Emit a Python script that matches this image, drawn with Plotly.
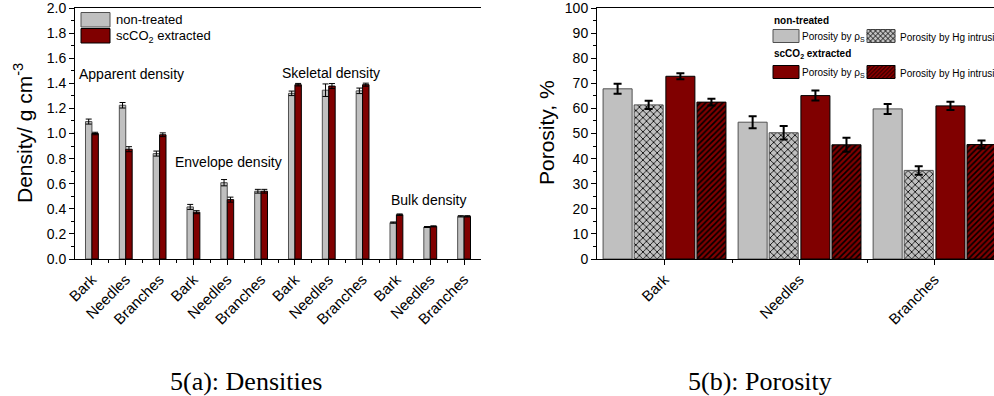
import plotly.graph_objects as go

# ---------------- data: densities (left) ----------------
dens_labels = ["Bark", "Needles", "Branches"] * 4
dens_nt = [1.095, 1.225, 0.840, 0.415, 0.608, 0.540, 1.320, 1.345, 1.340, 0.290, 0.255, 0.340]
dens_nt_err = [0.020, 0.022, 0.020, 0.020, 0.025, 0.015, 0.018, 0.050, 0.022, 0.005, 0.004, 0.005]
dens_sc = [1.000, 0.875, 0.990, 0.373, 0.473, 0.540, 1.389, 1.378, 1.389, 0.353, 0.260, 0.340]
dens_sc_err = [0.010, 0.020, 0.015, 0.012, 0.020, 0.015, 0.010, 0.020, 0.012, 0.006, 0.004, 0.005]
dens_groups = ["Apparent density", "Envelope density", "Skeletal density", "Bulk density"]
dens_series = ["non-treated", "scCO<sub>2</sub> extracted"]

# ---------------- data: porosity (right) ----------------
por_labels = ["Bark", "Needles", "Branches"]
por_nt_rho = [67.8, 54.5, 59.8]
por_nt_rho_err = [2.0, 2.4, 2.0]
por_nt_hg = [61.4, 50.3, 35.3]
por_nt_hg_err = [1.6, 2.7, 1.7]
por_sc_rho = [72.8, 65.1, 61.0]
por_sc_rho_err = [1.2, 2.0, 1.6]
por_sc_hg = [62.5, 45.5, 45.6]
por_sc_hg_err = [1.3, 2.8, 1.6]
por_series = ["Porosity by ρ<sub>S</sub>", "Porosity by Hg intrusion"]
por_treatments = ["<b>non-treated</b>", "<b>scCO<sub>2</sub> extracted</b>"]

W, H = 994, 396
GRAY = "#c0c0c0"
GRAY_EDGE = "#505050"
RED = "#800000"
FONT = "Arial, Liberation Sans, sans-serif"


def px_x(p):
    return p / W


def px_y(p):
    return 1 - p / H


xd = list(range(len(dens_labels)))
xp = list(range(len(por_labels)))

fig = go.Figure()


def eb(vals, thick, w):
    return dict(type="data", array=vals, color="black", thickness=thick, width=w)


# left chart bars
fig.add_trace(go.Bar(x=xd, y=dens_nt, error_y=eb(dens_nt_err, 1, 3), name=dens_series[0], showlegend=False,
                     marker=dict(color=GRAY, line=dict(color=GRAY_EDGE, width=1)),
                     width=0.19, offset=-0.19, xaxis="x", yaxis="y"))
fig.add_trace(go.Bar(x=xd, y=dens_sc, error_y=eb(dens_sc_err, 1, 3), name=dens_series[1], showlegend=False,
                     marker=dict(color=RED, line=dict(color="black", width=1)),
                     width=0.19, offset=0.0, xaxis="x", yaxis="y"))

# right chart bars
BW = 0.215
fig.add_trace(go.Bar(x=xp, y=por_nt_rho, error_y=eb(por_nt_rho_err, 2, 4), name=por_series[0], showlegend=False,
                     marker=dict(color=GRAY, line=dict(color=GRAY_EDGE, width=1)),
                     width=BW, offset=-0.455, xaxis="x2", yaxis="y2"))
fig.add_trace(go.Bar(x=xp, y=por_nt_hg, error_y=eb(por_nt_hg_err, 2, 4), name=por_series[1], showlegend=False,
                     marker=dict(color=GRAY, line=dict(color=GRAY_EDGE, width=1),
                                 pattern=dict(shape="x", fgcolor="black", bgcolor=GRAY, size=5, solidity=0.3,
                                              fillmode="replace")),
                     width=BW, offset=-0.225, xaxis="x2", yaxis="y2"))
fig.add_trace(go.Bar(x=xp, y=por_sc_rho, error_y=eb(por_sc_rho_err, 2, 4), name=por_series[0], showlegend=False,
                     marker=dict(color=RED, line=dict(color="black", width=1)),
                     width=BW, offset=0.01, xaxis="x2", yaxis="y2"))
fig.add_trace(go.Bar(x=xp, y=por_sc_hg, error_y=eb(por_sc_hg_err, 2, 4), name=por_series[1], showlegend=False,
                     marker=dict(color=RED, line=dict(color="black", width=1),
                                 pattern=dict(shape="/", fgcolor="black", bgcolor=RED, size=4, solidity=0.4,
                                              fillmode="replace")),
                     width=BW, offset=0.24, xaxis="x2", yaxis="y2"))

axis_common = dict(showline=True, linecolor="black", linewidth=1, ticks="outside", tickcolor="black",
                   showgrid=False, zeroline=False, ticklabeloverflow="allow",
                   tickfont=dict(family=FONT, size=14, color="black"))
xtick_font = dict(family=FONT, size=15, color="black")

fig.update_layout(
    width=W, height=H, margin=dict(l=0, r=0, t=0, b=0, autoexpand=False),
    paper_bgcolor="white", plot_bgcolor="white", barmode="overlay", showlegend=False,
    font=dict(family=FONT, color="black"),
    xaxis=dict(**{**axis_common, "tickfont": xtick_font},
               domain=[px_x(75), px_x(481)], range=[-0.5, 11.5], mirror=True,
               tickvals=xd, ticktext=dens_labels, tickangle=-45, ticklen=5,
               minor=dict(tickvals=[i + 0.5 for i in xd[:-1]], ticklen=3, ticks="outside", tickcolor="black")),
    yaxis=dict(**axis_common, domain=[px_y(259), px_y(8)], range=[0, 2.0], dtick=0.2, tickformat=".1f",
               ticklen=5, minor=dict(dtick=0.1, ticklen=3, ticks="outside", tickcolor="black")),
    xaxis2=dict(**{**axis_common, "tickfont": xtick_font},
                domain=[px_x(597), 1.0], range=[-0.5, 2.44], mirror=True, anchor="y2",
                tickvals=xp, ticktext=por_labels, tickangle=-45, ticklen=5,
                minor=dict(tickvals=[0.5, 1.5], ticklen=3, ticks="outside", tickcolor="black")),
    yaxis2=dict(**axis_common, domain=[px_y(259), px_y(8)], range=[0, 100], dtick=10, anchor="x2",
                ticklen=5, minor=dict(dtick=5, ticklen=3, ticks="outside", tickcolor="black")),
)


def txt(x, y, text, size, anchor="left", angle=0, family=FONT):
    fig.add_annotation(x=px_x(x), y=px_y(y), xref="paper", yref="paper", text=text, showarrow=False,
                       xanchor=anchor, yanchor="middle", textangle=angle,
                       font=dict(size=size, family=family, color="black"))


def rect(x0, y0, x1, y1, fill, edge):
    fig.add_shape(type="rect", xref="paper", yref="paper", x0=px_x(x0), x1=px_x(x1), y0=px_y(y1), y1=px_y(y0),
                  fillcolor=fill, line=dict(color=edge, width=1), layer="above")


def hatch(x0, y0, x1, y1, step, dirs):
    segs = []
    for d in dirs:
        if d == "/":
            c = x0 + y0
            while c <= x1 + y1:
                xa, xb = max(x0, c - y1), min(x1, c - y0)
                if xb > xa:
                    segs.append(f"M{px_x(xa):.5f},{px_y(c - xa):.5f}L{px_x(xb):.5f},{px_y(c - xb):.5f}")
                c += step
        else:
            c = x0 - y1
            while c <= x1 - y0:
                xa, xb = max(x0, y0 + c), min(x1, y1 + c)
                if xb > xa:
                    segs.append(f"M{px_x(xa):.5f},{px_y(xa - c):.5f}L{px_x(xb):.5f},{px_y(xb - c):.5f}")
                c += step
    fig.add_shape(type="path", xref="paper", yref="paper", path="".join(segs),
                  line=dict(color="black", width=0.8), layer="above")


# left legend
rect(81, 12.5, 110, 27, GRAY, GRAY_EDGE)
rect(81, 28.5, 110, 43, RED, "black")
txt(114, 20, dens_series[0], 13)
txt(114, 36, dens_series[1], 13)

# right legend
rows = [(21, 36, GRAY, GRAY_EDGE, "x"), (54, 72, RED, "black", "/")]
for title, (ty, ry, fill, edge, hs) in zip(por_treatments, rows):
    txt(772, ty, title, 10)
    rect(773, ry - 6.5, 799, ry + 6.5, fill, edge)
    txt(800, ry + 1, por_series[0], 10)
    rect(867, ry - 6.5, 895, ry + 6.5, fill, edge)
    if hs == "x":
        hatch(867, ry - 6.5, 895, ry + 6.5, 5, ["/", "\\"])
    else:
        hatch(867, ry - 6.5, 895, ry + 6.5, 4, ["/"])
    txt(898, ry + 1, por_series[1], 10)

# group labels on left chart
grp_pos = [(77, 74), (173, 162), (280, 73), (389, 200)]
for name, (gx, gy) in zip(dens_groups, grp_pos):
    txt(gx, gy, name, 14)

# axis titles
txt(23, 133, "Density/ g cm<sup>-3</sup>", 21, anchor="center", angle=-90)
txt(546, 133, "Porosity, %", 21, anchor="center", angle=-90)

# captions
txt(246, 381, "5(a): Densities", 26, anchor="center", family="Liberation Serif, serif")
txt(760, 381, "5(b): Porosity", 26, anchor="center", family="Liberation Serif, serif")

fig.write_html("out.html")
